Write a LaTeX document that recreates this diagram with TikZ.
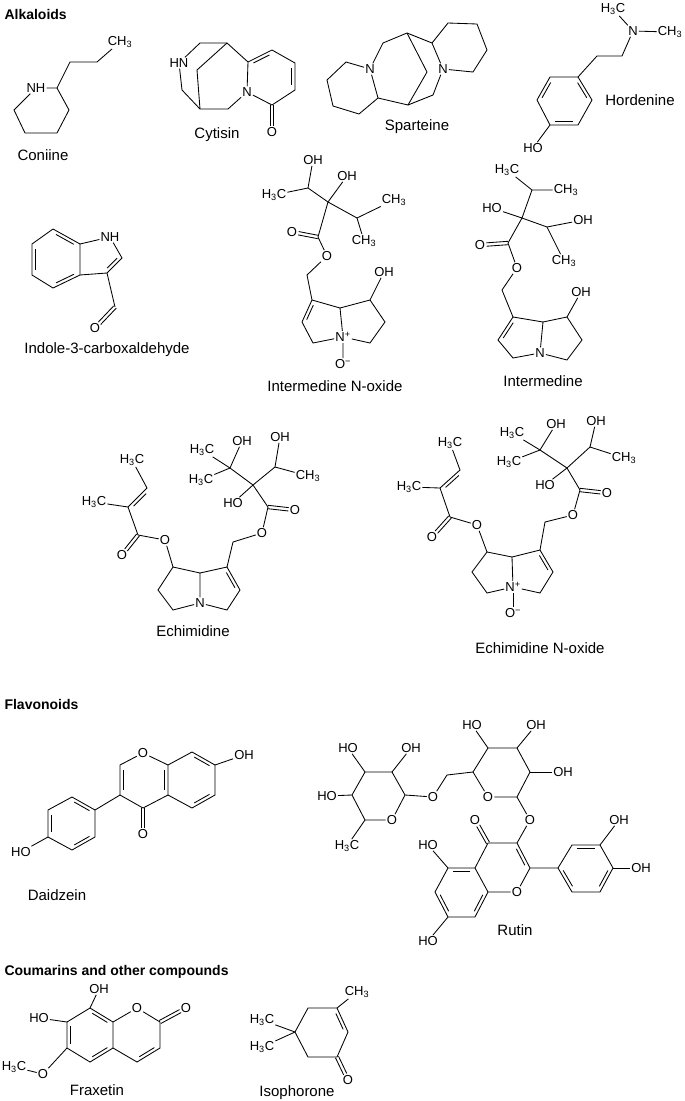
\documentclass[tikz,border=0pt]{standalone}
\usepackage{fontspec}
\setmainfont{Liberation Sans}
\usetikzlibrary{calc}
\newcommand\labfont{\fontsize{13}{13}\selectfont}
\newcommand\namefont{\fontsize{15}{16}\selectfont}
\newcommand\headfont{\fontsize{14}{15}\selectfont\bfseries}
\newcommand\mR{CH\textsubscript{3}}
\newcommand\mL{H\textsubscript{3}C}
\newcommand\Np{N\textsuperscript{+}}
\newcommand\Om{O\textsuperscript{−}}
\tikzset{bond/.style={line width=0.85pt},
 lab/.style={font=\labfont,inner sep=1pt},
 cname/.style={font=\namefont},
 head/.style={font=\headfont,anchor=west}}
% inner double line toward point #3
\newcommand\dbin[3]{\coordinate (tmpP) at ($(#1)!(#3)!(#2)$);
 \coordinate (tmpQ) at ($(tmpP)!3.3pt!(#3)$);
 \draw[bond] ($(#1)!.17!(#2)+(tmpQ)-(tmpP)$) -- ($(#2)!.17!(#1)+(tmpQ)-(tmpP)$);}
% C=O double to labelled node
\newcommand\dco[2]{\draw[bond] ($(#1)!1.7pt!90:(#2)$) -- ($(#2)!6.5pt!(#1)!1.7pt!-90:(#1)$);
 \draw[bond] ($(#1)!1.7pt!-90:(#2)$) -- ($(#2)!6.5pt!(#1)!1.7pt!90:(#1)$);}
\begin{document}
\begin{tikzpicture}[x=1pt,y=-1pt]
\useasboundingbox (0,0) rectangle (685,1101);
\node[head] (h1) at (1,14) {Alkaloids};
\node[head] (h2) at (1,704) {Flavonoids};
\node[head] (h3) at (1,972) {Coumarins and other compounds};

% Coniine
\node[lab] (cN) at (36,88) {NH};
\coordinate (c2) at (57,88); \coordinate (c3) at (69,110); \coordinate (c4) at (57,133);
\coordinate (c5) at (25,133); \coordinate (c6) at (14,110); \coordinate (c7) at (70,62); \coordinate (c8) at (97,62);
\node[lab] (cMe) at (120,42) {\mR};
\draw[bond] (cN)--(c2)--(c3)--(c4)--(c5)--(c6)--(cN);
\draw[bond] (c2)--(c7)--(c8)--(cMe);
\node[cname] (nm1) at (43,155) {Coniine};

% Cytisin
\node[lab] (yN1) at (179,63) {HN};
\coordinate (y1) at (200,43); \coordinate (yB1) at (227,43); \coordinate (y2) at (182,90);
\coordinate (yB2) at (200,109); \coordinate (y3) at (228,109); \node[lab] (yN2) at (247,92) {N};
\coordinate (y4) at (248,62); \coordinate (y5) at (272,50); \coordinate (y6) at (295,63);
\coordinate (y7) at (295,90); \coordinate (y8) at (272,105); \node[lab] (yO) at (272,132) {O};
\coordinate (yb) at (197,70); \coordinate (yc) at (272,77);
\draw[bond] (yN1)--(y1)--(yB1)--(y4)--(yN2)--(y3)--(yB2)--(y2)--(yN1);
\draw[bond] (yB1)--(yb)--(yB2);
\draw[bond] (y4)--(y5)--(y6)--(y7)--(y8)--(yN2);
\dbin{y4}{y5}{yc} \dbin{y6}{y7}{yc} \dco{y8}{yO}
\node[cname] (nm2) at (217,135) {Cytisin};

% Sparteine
\node[lab] (sN1) at (370,69) {N}; \node[lab] (sN2) at (443,69) {N};
\coordinate (sA) at (346,62); \coordinate (sB) at (327,80); \coordinate (sC) at (333,106);
\coordinate (sD) at (359,114); \coordinate (sE) at (378,98);
\coordinate (sT1) at (383,43); \coordinate (sT) at (407,33); \coordinate (sR1) at (432,43);
\coordinate (sR2) at (448,23); \coordinate (sR3) at (477,24); \coordinate (sR4) at (487,50);
\coordinate (sR5) at (473,72); \coordinate (sM) at (427,72); \coordinate (sBb) at (408,105);
\coordinate (sK) at (433,95);
\draw[bond] (sN1)--(sA)--(sB)--(sC)--(sD)--(sE)--(sN1);
\draw[bond] (sN1)--(sT1)--(sT)--(sR1)--(sR2)--(sR3)--(sR4)--(sR5)--(sN2)--(sR1);
\draw[bond] (sT)--(sM)--(sBb)--(sE); \draw[bond] (sN2)--(sK)--(sBb);
\node[cname] (nm3) at (417,127) {Sparteine};

% Hordenine
\coordinate (hr1) at (578,77); \coordinate (hr2) at (550,77); \coordinate (hr3) at (537,100);
\coordinate (hr4) at (550,125); \coordinate (hr5) at (578,125); \coordinate (hr6) at (592,100);
\coordinate (hc) at (564,101);
\coordinate (hr7) at (597,56); \coordinate (hr8) at (622,56);
\node[lab] (hN) at (633,31) {N}; \node[lab] (hMe1) at (613,9) {\mL};
\node[lab] (hMe2) at (670,32) {\mR}; \node[lab] (hO) at (533,148) {HO};
\draw[bond] (hr1)--(hr2)--(hr3)--(hr4)--(hr5)--(hr6)--(hr1);
\dbin{hr2}{hr3}{hc} \dbin{hr4}{hr5}{hc} \dbin{hr1}{hr6}{hc}
\draw[bond] (hr1)--(hr7)--(hr8)--(hN)--(hMe2); \draw[bond] (hN)--(hMe1); \draw[bond] (hr4)--(hO);
\node[cname] (nm4) at (640,100) {Hordenine};

% Indole-3-carboxaldehyde
\coordinate (i1) at (53,229); \coordinate (i2) at (80,244); \coordinate (i3) at (80,275);
\coordinate (i4) at (53,288); \coordinate (i5) at (32,275); \coordinate (i6) at (32,244);
\coordinate (ic) at (56,259); \coordinate (ipc) at (100,259);
\node[lab] (iN) at (110,237) {NH};
\coordinate (i7) at (122,258); \coordinate (i8) at (107,273); \coordinate (i9) at (115,307);
\node[lab] (iO) at (95,328) {O};
\draw[bond] (i1)--(i2)--(i3)--(i4)--(i5)--(i6)--(i1);
\draw[bond] (i2)--(iN)--(i7)--(i8)--(i3); \draw[bond] (i8)--(i9);
\dbin{i6}{i5}{ic} \dbin{i1}{i2}{ic} \dbin{i3}{i4}{ic} \dbin{i7}{i8}{ipc} \dco{i9}{iO}
\node[cname] (nm5) at (107,350) {Indole-3-carboxaldehyde};

% Intermedine N-oxide
\node[lab] (nOH1) at (313,160) {OH}; \coordinate (n1) at (308,188); \node[lab] (nMe1) at (274,195) {\mL};
\coordinate (n2) at (328,202); \node[lab] (nOH2) at (347,176) {OH}; \coordinate (n3) at (357,218);
\node[lab] (nMe2) at (394,200) {\mR}; \node[lab] (nMe3) at (364,241) {\mR};
\coordinate (n4) at (318,237); \node[lab] (nO1) at (292,232) {O}; \node[lab] (nO2) at (327,256) {O};
\coordinate (n5) at (307,275); \coordinate (n6) at (312,300); \coordinate (n7) at (302,322);
\coordinate (n8) at (313,343); \node[lab] (nN) at (343,337) {\Np}; \coordinate (n9) at (340,308);
\coordinate (n10) at (370,300); \node[lab] (nOH3) at (384,272) {OH}; \coordinate (n11) at (385,322);
\coordinate (n12) at (370,343); \node[lab] (nOm) at (343,364) {\Om}; \coordinate (nc) at (323,324);
\draw[bond] (n1)--(nOH1); \draw[bond] (nMe1)--(n1)--(n2)--(nOH2); \draw[bond] (n2)--(n3)--(nMe2);
\draw[bond] (n3)--(nMe3); \draw[bond] (n2)--(n4); \dco{n4}{nO1}
\draw[bond] (n4)--(nO2)--(n5)--(n6)--(n7)--(n8)--(nN)--(n9)--(n6);
\dbin{n6}{n7}{nc}
\draw[bond] (n9)--(n10)--(nOH3); \draw[bond] (n10)--(n11)--(n12)--(nN)--(nOm);
\node[cname] (nm6) at (335,386) {Intermedine N-oxide};

% Intermedine
\node[lab] (mMe1) at (507,170) {\mL}; \coordinate (m1) at (532,190); \node[lab] (mMe2) at (566,190) {\mR};
\coordinate (m2) at (522,218); \node[lab] (mHO) at (492,208) {HO}; \coordinate (m3) at (547,227);
\node[lab] (mOH) at (583,220) {OH}; \node[lab] (mMe3) at (564,261) {\mR};
\coordinate (m4) at (508,243); \node[lab] (mO1) at (480,245) {O}; \node[lab] (mO2) at (517,268) {O};
\coordinate (m5) at (502,290); \coordinate (m6) at (513,317); \coordinate (m7) at (498,340);
\coordinate (m8) at (513,358); \node[lab] (mN) at (540,353) {N}; \coordinate (m9) at (543,322);
\coordinate (m10) at (567,317); \node[lab] (mOH2) at (581,292) {OH}; \coordinate (m11) at (582,340);
\coordinate (m12) at (567,360); \coordinate (mc) at (522,340);
\draw[bond] (mMe1)--(m1)--(mMe2); \draw[bond] (m1)--(m2)--(mHO); \draw[bond] (m2)--(m3)--(mOH);
\draw[bond] (m3)--(mMe3); \draw[bond] (m2)--(m4); \dco{m4}{mO1}
\draw[bond] (m4)--(mO2)--(m5)--(m6)--(m7)--(m8)--(mN)--(m9)--(m6);
\dbin{m6}{m7}{mc}
\draw[bond] (m9)--(m10)--(mOH2); \draw[bond] (m10)--(m11)--(m12)--(mN);
\node[cname] (nm7) at (543,381) {Intermedine};

% Echimidine
\node[lab] (eMe1) at (132,460) {\mL}; \coordinate (e1) at (147,488); \coordinate (e2) at (128,507);
\node[lab] (eMe2) at (94,502) {\mL}; \coordinate (e3) at (138,535); \node[lab] (eO1) at (122,555) {O};
\node[lab] (eO2) at (165,540) {O}; \coordinate (e4) at (173,567); \coordinate (e5) at (158,590);
\coordinate (e6) at (173,610); \node[lab] (eN) at (200,603) {N}; \coordinate (e7) at (200,573);
\coordinate (e8) at (227,567); \coordinate (e9) at (240,590); \coordinate (e10) at (227,610);
\coordinate (e11) at (233,542); \node[lab] (eO3) at (262,533) {O}; \coordinate (e12) at (268,507);
\node[lab] (eO4) at (295,510) {O}; \coordinate (e13) at (253,485); \node[lab] (eHO) at (233,503) {HO};
\coordinate (e14) at (230,468); \node[lab] (eMe3) at (202,450) {\mL}; \node[lab] (eMe4) at (201,480) {\mL};
\node[lab] (eOH1) at (242,441) {OH}; \coordinate (e15) at (275,467); \node[lab] (eOH2) at (280,437) {OH};
\node[lab] (eMe5) at (308,476) {\mR}; \coordinate (es) at (152,512); \coordinate (ec) at (216,590);
\draw[bond] (eMe1)--(e1)--(e2)--(eMe2); \draw[bond] (e2)--(e3); \dbin{e1}{e2}{es} \dco{e3}{eO1}
\draw[bond] (e3)--(eO2)--(e4)--(e5)--(e6)--(eN)--(e7)--(e4);
\draw[bond] (e7)--(e8)--(e9)--(e10)--(eN); \dbin{e8}{e9}{ec}
\draw[bond] (e8)--(e11)--(eO3)--(e12)--(e13); \dco{e12}{eO4}
\draw[bond] (e13)--(eHO); \draw[bond] (e13)--(e14)--(eMe3); \draw[bond] (e14)--(eMe4); \draw[bond] (e14)--(eOH1);
\draw[bond] (e13)--(e15)--(eOH2); \draw[bond] (e15)--(eMe5);
\node[cname] (nm8) at (193,631) {Echimidine};

% Echimidine N-oxide
\node[lab] (fMe1) at (450,443) {\mL}; \coordinate (f1) at (460,470); \coordinate (f2) at (440,488);
\node[lab] (fMe2) at (409,487) {\mL}; \coordinate (f3) at (450,517); \node[lab] (fO1) at (432,537) {O};
\node[lab] (fO2) at (477,525) {O}; \coordinate (f4) at (487,552); \coordinate (f5) at (472,572);
\coordinate (f6) at (487,593); \node[lab] (fN) at (513,587) {\Np}; \coordinate (f7) at (512,557);
\coordinate (f8) at (540,550); \coordinate (f9) at (553,572); \coordinate (f10) at (540,593);
\node[lab] (fOm) at (513,613) {\Om};
\coordinate (f11) at (545,522); \node[lab] (fO3) at (573,515) {O}; \coordinate (f12) at (580,490);
\node[lab] (fO4) at (607,493) {O}; \coordinate (f13) at (567,468); \node[lab] (fHO) at (545,485) {HO};
\coordinate (f14) at (540,450); \node[lab] (fMe3) at (512,433) {\mL}; \node[lab] (fMe4) at (509,462) {\mL};
\node[lab] (fOH1) at (556,424) {OH}; \coordinate (f15) at (590,447); \node[lab] (fOH2) at (596,421) {OH};
\node[lab] (fMe5) at (624,458) {\mR}; \coordinate (fs) at (465,493); \coordinate (fc) at (530,572);
\draw[bond] (fMe1)--(f1)--(f2)--(fMe2); \draw[bond] (f2)--(f3); \dbin{f1}{f2}{fs} \dco{f3}{fO1}
\draw[bond] (f3)--(fO2)--(f4)--(f5)--(f6)--(fN)--(f7)--(f4);
\draw[bond] (f7)--(f8)--(f9)--(f10)--(fN); \dbin{f8}{f9}{fc} \draw[bond] (fN)--(fOm);
\draw[bond] (f8)--(f11)--(fO3)--(f12)--(f13); \dco{f12}{fO4}
\draw[bond] (f13)--(fHO); \draw[bond] (f13)--(f14)--(fMe3); \draw[bond] (f14)--(fMe4); \draw[bond] (f14)--(fOH1);
\draw[bond] (f13)--(f15)--(fOH2); \draw[bond] (f15)--(fMe5);
\node[cname] (nm9) at (540,648) {Echimidine N-oxide};

% Daidzein
\node[lab] (dO1) at (143,753) {O}; \coordinate (d2) at (120,765); \coordinate (d3) at (120,795);
\coordinate (d4) at (143,808); \node[lab] (dO2) at (143,834) {O}; \coordinate (d4a) at (168,795);
\coordinate (d8a) at (168,765); \coordinate (d8) at (192,752); \coordinate (d7) at (215,765);
\node[lab] (dOH) at (244,755) {OH}; \coordinate (d6) at (215,795); \coordinate (d5) at (192,808);
\coordinate (p1) at (95,810); \coordinate (p2) at (72,797); \coordinate (p3) at (48,810);
\coordinate (p4) at (48,837); \coordinate (p5) at (72,850); \coordinate (p6) at (95,837);
\node[lab] (dHO) at (21,852) {HO};
\coordinate (dpc) at (143,780); \coordinate (dbc) at (192,780); \coordinate (dph) at (72,823);
\draw[bond] (dO1)--(d2)--(d3)--(d4)--(d4a)--(d8a)--(dO1);
\draw[bond] (d8a)--(d8)--(d7)--(d6)--(d5)--(d4a); \draw[bond] (d7)--(dOH);
\dco{d4}{dO2} \dbin{d2}{d3}{dpc} \dbin{d8a}{d4a}{dpc} \dbin{d8}{d7}{dbc} \dbin{d6}{d5}{dbc}
\draw[bond] (d3)--(p1)--(p2)--(p3)--(p4)--(p5)--(p6)--(p1); \draw[bond] (p4)--(dHO);
\dbin{p1}{p2}{dph} \dbin{p3}{p4}{dph} \dbin{p5}{p6}{dph}
\node[cname] (nm10) at (57,895) {Daidzein};

% Rutin
\coordinate (r1) at (365,772); \coordinate (r2) at (392,772); \coordinate (r3) at (405,795);
\node[lab] (rOr) at (392,820) {O}; \coordinate (r5) at (365,820); \coordinate (r4) at (352,795);
\node[lab] (rHO1) at (348,748) {HO}; \node[lab] (rOH1) at (411,748) {OH};
\node[lab] (rHO2) at (327,796) {HO}; \node[lab] (rMe) at (347,846) {\mL};
\node[lab] (rO) at (433,797) {O}; \coordinate (r6) at (447,775);
\coordinate (g5) at (473,772); \node[lab] (gO) at (488,797) {O}; \coordinate (g1) at (517,797);
\coordinate (g2) at (530,772); \coordinate (g3) at (517,748); \coordinate (g4) at (488,748);
\node[lab] (gHO) at (472,725) {HO}; \node[lab] (gOH1) at (536,725) {OH}; \node[lab] (gOH2) at (563,772) {OH};
\node[lab] (gO3) at (530,820) {O};
\coordinate (q3) at (517,843); \coordinate (q4) at (488,843); \node[lab] (qO) at (475,820) {O};
\coordinate (q2) at (530,868); \node[lab] (qO1) at (517,892) {O}; \coordinate (q8a) at (488,892);
\coordinate (q4a) at (475,868); \coordinate (q5) at (448,868); \node[lab] (qHO1) at (428,845) {HO};
\coordinate (q6) at (435,892); \coordinate (q7) at (448,917); \node[lab] (qHO2) at (428,941) {HO};
\coordinate (q8) at (475,917);
\coordinate (b1) at (558,868); \coordinate (b2) at (572,845); \coordinate (b3) at (600,845);
\node[lab] (bOH1) at (619,820) {OH}; \coordinate (b4) at (613,868); \node[lab] (bOH2) at (641,868) {OH};
\coordinate (b5) at (600,892); \coordinate (b6) at (572,892);
\coordinate (qc) at (503,868); \coordinate (qac) at (462,892); \coordinate (bc) at (586,868);
\draw[bond] (r1)--(r2)--(r3)--(rOr)--(r5)--(r4)--(r1);
\draw[bond] (r1)--(rHO1); \draw[bond] (r2)--(rOH1); \draw[bond] (r4)--(rHO2); \draw[bond] (r5)--(rMe);
\draw[bond] (r3)--(rO)--(r6)--(g5)--(gO)--(g1)--(g2)--(g3)--(g4)--(g5);
\draw[bond] (g4)--(gHO); \draw[bond] (g3)--(gOH1); \draw[bond] (g2)--(gOH2);
\draw[bond] (g1)--(gO3)--(q3)--(q4); \dco{q4}{qO}
\draw[bond] (q3)--(q2)--(qO1)--(q8a)--(q4a)--(q4); \dbin{q3}{q2}{qc}
\draw[bond] (q4a)--(q5)--(q6)--(q7)--(q8)--(q8a);
\draw[bond] (q5)--(qHO1); \draw[bond] (q7)--(qHO2);
\dbin{q4a}{q5}{qac} \dbin{q6}{q7}{qac} \dbin{q8}{q8a}{qac}
\draw[bond] (q2)--(b1)--(b2)--(b3)--(b4)--(b5)--(b6)--(b1);
\draw[bond] (b3)--(bOH1); \draw[bond] (b4)--(bOH2);
\dbin{b2}{b3}{bc} \dbin{b4}{b5}{bc} \dbin{b6}{b1}{bc}
\node[cname] (nm11) at (515,930) {Rutin};

% Fraxetin
\coordinate (x8) at (90,1008); \coordinate (x8a) at (113,1022); \node[lab] (xO1) at (137,1008) {O};
\coordinate (x2) at (160,1022); \node[lab] (xO) at (186,1008) {O}; \coordinate (x3) at (160,1048);
\coordinate (x4) at (137,1062); \coordinate (x4a) at (113,1048); \coordinate (x5) at (90,1062);
\coordinate (x6) at (67,1048); \coordinate (x7) at (67,1022);
\node[lab] (xOH) at (99,989) {OH}; \node[lab] (xHO) at (39,1018) {HO};
\node[lab] (xOM) at (43,1074) {O}; \node[lab] (xMe) at (14,1067) {\mL};
\coordinate (xpc) at (137,1035); \coordinate (xbc) at (90,1035);
\draw[bond] (x8)--(x8a)--(xO1)--(x2)--(x3)--(x4)--(x4a)--(x8a);
\draw[bond] (x4a)--(x5)--(x6)--(x7)--(x8)--(xOH); \draw[bond] (x7)--(xHO);
\draw[bond] (x6)--(xOM)--(xMe);
\dco{x2}{xO} \dbin{x3}{x4}{xpc} \dbin{x7}{x6}{xbc} \dbin{x5}{x4a}{xbc} \dbin{x8}{x8a}{xbc}
\node[cname] (nm12) at (97,1090) {Fraxetin};

% Isophorone
\coordinate (o5) at (295,1032); \coordinate (o4) at (308,1008); \coordinate (o3) at (337,1008);
\node[lab] (oMe) at (357,992) {\mR}; \coordinate (o2) at (348,1032); \coordinate (o1) at (337,1057);
\node[lab] (oO) at (348,1080) {O}; \coordinate (o6) at (308,1057);
\node[lab] (oMe1) at (262,1020) {\mL}; \node[lab] (oMe2) at (262,1047) {\mL};
\coordinate (oc) at (322,1032);
\draw[bond] (o5)--(o4)--(o3)--(o2)--(o1)--(o6)--(o5); \draw[bond] (o3)--(oMe);
\draw[bond] (o5)--(oMe1); \draw[bond] (o5)--(oMe2);
\dbin{o3}{o2}{oc} \dco{o1}{oO}
\node[cname] (nm13) at (297,1093) {Isophorone};
\end{tikzpicture}
\end{document}
